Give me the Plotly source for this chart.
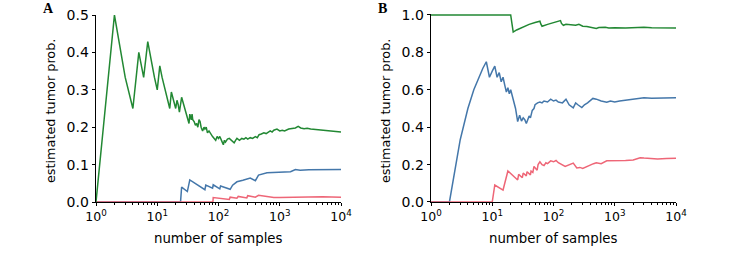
import plotly.graph_objects as go

# ---------------- data ----------------
# Panel A
a_green_n = [1, 2, 3, 4, 5, 6, 7, 8, 9, 10, 11, 12, 13, 14, 15, 16, 17, 18, 19, 20,
             21, 22, 23, 24, 25, 26, 28, 30, 32, 33, 34, 35, 36, 37, 38, 40, 42, 44, 46, 48,
             50, 52, 55, 58, 60, 63, 66, 70, 75, 80, 85, 90, 95, 100, 105, 110, 115, 120, 125, 130,
             140, 150, 160, 170, 180, 190, 200, 220, 240, 260, 280, 300, 330, 360, 400, 430, 460, 500,
             550, 600, 650, 700, 750, 800, 900, 1000, 1100, 1200, 1400, 1600, 1800, 2000, 2200, 2500,
             2800, 3200, 3600, 4000, 5000, 6000, 7000, 8000, 9000, 10000]
a_green_p = [0.0, 0.5, 0.333, 0.25, 0.4, 0.333, 0.429, 0.375, 0.333, 0.3, 0.364, 0.333, 0.308, 0.286, 0.267, 0.25, 0.294, 0.278, 0.263, 0.25,
             0.272, 0.26, 0.24, 0.27, 0.28, 0.27, 0.25, 0.235, 0.22, 0.21, 0.235, 0.23, 0.22, 0.235, 0.22, 0.215, 0.205, 0.21, 0.2, 0.22,
             0.215, 0.2, 0.19, 0.2, 0.195, 0.2, 0.185, 0.19, 0.18, 0.175, 0.17, 0.165, 0.175, 0.17, 0.175, 0.165, 0.16, 0.153, 0.165, 0.16,
             0.168, 0.17, 0.165, 0.16, 0.158, 0.165, 0.17, 0.165, 0.17, 0.168, 0.172, 0.168, 0.172, 0.17, 0.175, 0.172, 0.18, 0.182,
             0.185, 0.183, 0.188, 0.19, 0.187, 0.192, 0.195, 0.19, 0.192, 0.19, 0.195, 0.197, 0.198, 0.202, 0.198, 0.196,
             0.197, 0.195, 0.194, 0.193, 0.191, 0.19, 0.189, 0.188, 0.188, 0.187]

a_blue_n = [1, 24, 25, 31, 34, 45, 60, 62, 80, 82, 105, 108, 130, 155, 170, 200, 250, 330, 400, 450,
            620, 800, 1150, 1500, 1800, 2150, 3000, 5000, 10000]
a_blue_p = [0.0, 0.0, 0.04, 0.028, 0.059, 0.045, 0.033, 0.045, 0.037, 0.046, 0.035, 0.043, 0.038, 0.034, 0.045, 0.054, 0.058, 0.064, 0.057, 0.072,
            0.078, 0.079, 0.08, 0.081, 0.087, 0.085, 0.086, 0.086, 0.087]

a_red_n = [1, 81, 82, 100, 120, 150, 155, 180, 200, 210, 250, 290, 300, 350, 400, 450, 500, 600, 700, 800,
           1000, 1500, 2000, 3000, 5000, 10000]
a_red_p = [0.0, 0.0, 0.012, 0.01, 0.008, 0.007, 0.013, 0.011, 0.01, 0.015, 0.012, 0.011, 0.017, 0.015, 0.013, 0.018, 0.017, 0.016, 0.014, 0.012,
           0.012, 0.013, 0.013, 0.014, 0.014, 0.013]

# Panel B
b_green_n = [1, 20, 21, 22, 25, 30, 40, 50, 60, 62, 65, 80, 100, 130, 135, 145, 160, 200, 230, 260,
             300, 350, 400, 450, 500, 550, 700, 800, 1000, 1500, 2000, 3000, 4000, 6000, 10000]
b_green_p = [1.0, 1.0, 0.952, 0.909, 0.92, 0.933, 0.95, 0.96, 0.967, 0.952, 0.94, 0.95, 0.96, 0.97, 0.955, 0.945, 0.95, 0.948, 0.945, 0.95,
             0.94, 0.938, 0.935, 0.93, 0.928, 0.933, 0.935, 0.93, 0.932, 0.93, 0.933, 0.935, 0.932, 0.93, 0.93]

b_blue_n = [1, 2, 3, 4, 5, 6, 7, 8, 9, 10, 11, 12, 13, 14, 15, 16, 17, 18, 19, 20,
            22, 24, 26, 27, 28, 30, 32, 34, 36, 38, 40, 42, 45, 48, 50, 55, 60, 65, 70, 80,
            90, 100, 110, 120, 140, 160, 180, 210, 230, 250, 290, 320, 360, 440, 500, 600, 740, 850, 1000, 1200,
            1500, 2000, 2500, 3000, 4000, 5000, 7000, 10000]
b_blue_p = [0.0, 0.0, 0.333, 0.5, 0.6, 0.667, 0.714, 0.75, 0.667, 0.7, 0.727, 0.667, 0.692, 0.643, 0.667, 0.625, 0.588, 0.611, 0.579, 0.6,
            0.545, 0.5, 0.43, 0.444, 0.464, 0.433, 0.45, 0.44, 0.42, 0.44, 0.46, 0.45, 0.49, 0.5, 0.52, 0.53, 0.535, 0.53, 0.54, 0.535,
            0.55, 0.54, 0.545, 0.535, 0.53, 0.55, 0.52, 0.503, 0.53, 0.52, 0.505, 0.52, 0.53, 0.554, 0.55, 0.54, 0.533, 0.54, 0.535, 0.54,
            0.545, 0.55, 0.555, 0.558, 0.555, 0.555, 0.558, 0.558]

b_red_n = [1, 10, 11, 15, 18, 26, 27, 29, 31, 32, 34, 36, 37, 40, 42, 43, 46, 48, 51, 54,
           56, 60, 65, 70, 75, 80, 90, 100, 110, 120, 155, 180, 210, 240, 270, 300, 350, 400, 450, 500,
           600, 740, 900, 1000, 1500, 2000, 2600, 3000, 4000, 5000, 7000, 10000]
b_red_p = [0.0, 0.0, 0.091, 0.064, 0.166, 0.118, 0.148, 0.138, 0.13, 0.155, 0.146, 0.14, 0.162, 0.15, 0.145, 0.165, 0.158, 0.19, 0.18, 0.17,
           0.2, 0.215, 0.2, 0.195, 0.21, 0.205, 0.22, 0.215, 0.222, 0.21, 0.19, 0.2, 0.208, 0.182, 0.185, 0.18, 0.19, 0.2, 0.205, 0.21,
           0.205, 0.22, 0.22, 0.218, 0.222, 0.225, 0.237, 0.235, 0.232, 0.23, 0.232, 0.234]

x_tickvals = [1, 10, 100, 1000, 10000]
x_ticktext = ["10<sup>0</sup>", "10<sup>1</sup>", "10<sup>2</sup>", "10<sup>3</sup>", "10<sup>4</sup>"]
x_minor = [m * 10 ** d for d in range(4) for m in range(2, 10)]
a_yticks = [0.0, 0.1, 0.2, 0.3, 0.4, 0.5]
b_yticks = [0.0, 0.2, 0.4, 0.6, 0.8, 1.0]

GREEN = "#228833"
BLUE = "#4477AA"
RED = "#EE6677"

W, H = 732, 264
FONT = "DejaVu Sans"
Y0, Y1 = 202, 15  # pixel rows of axis bottom / top tick

fig = go.Figure()

def add(n, p, color, xa, ya):
    fig.add_trace(go.Scatter(x=n, y=p, mode="lines", line=dict(color=color, width=1.5),
                             xaxis=xa, yaxis=ya, showlegend=False, hoverinfo="skip"))

add(a_blue_n, a_blue_p, BLUE, "x", "y")
add(a_red_n, a_red_p, RED, "x", "y")
add(a_green_n, a_green_p, GREEN, "x", "y")
add(b_blue_n, b_blue_p, BLUE, "x2", "y2")
add(b_red_n, b_red_p, RED, "x2", "y2")
add(b_green_n, b_green_p, GREEN, "x2", "y2")

def xaxis(dom, anchor):
    return dict(domain=dom, anchor=anchor, type="log", range=[0, 4], automargin=False,
                tickvals=x_tickvals, ticktext=x_ticktext,
                ticks="outside", ticklen=3.5, tickwidth=0.8, tickcolor="#000",
                showline=True, linecolor="#000", linewidth=0.8, showgrid=False, zeroline=False,
                tickfont=dict(family=FONT, size=12.5, color="#000"),
                minor=dict(tickvals=x_minor, ticks="outside", ticklen=2, tickwidth=0.6,
                           tickcolor="#000", showgrid=False))

def yaxis(anchor, top, ticks, pad=0.0):
    # pad: small headroom above the top tick so a line at the top value is not clipped
    pxu = (Y0 - Y1) / top
    top_px = Y1 - pad * pxu
    return dict(domain=[1 - Y0 / H, 1 - top_px / H], anchor=anchor, range=[0, top + pad],
                tickvals=ticks, automargin=False,
                ticktext=["%.1f" % t for t in ticks],
                ticks="outside", ticklen=3.5, tickwidth=0.8, tickcolor="#000",
                showline=True, linecolor="#000", linewidth=0.8, showgrid=False, zeroline=False,
                tickfont=dict(family=FONT, size=14, color="#000"))

fig.update_layout(
    width=W, height=H,
    margin=dict(l=0, r=0, t=0, b=0, autoexpand=False),
    paper_bgcolor="white", plot_bgcolor="white",
    xaxis=xaxis([96 / W, 341 / W], "y"),
    yaxis=yaxis("x", 0.5, a_yticks),
    xaxis2=xaxis([431 / W, 676 / W], "y2"),
    yaxis2=yaxis("x2", 1.0, b_yticks, pad=0.006),
)

ann = []
for cx, lx in [((96 + 341) / 2, 51), ((431 + 676) / 2, 386)]:
    ann.append(dict(text="number of samples", x=cx / W, y=1 - 238 / H, xref="paper", yref="paper",
                    showarrow=False, font=dict(family=FONT, size=13.3, color="#000"),
                    xanchor="center", yanchor="middle"))
    ann.append(dict(text="estimated tumor prob.", x=lx / W, y=1 - 111 / H, xref="paper", yref="paper",
                    showarrow=False, textangle=-90, font=dict(family=FONT, size=12.8, color="#000"),
                    xanchor="center", yanchor="middle"))
ann.append(dict(text="<b>A</b>", x=41 / W, y=1 - 9 / H, xref="paper", yref="paper", showarrow=False,
                font=dict(family="Liberation Serif", size=14, color="#000"), xanchor="left", yanchor="middle"))
ann.append(dict(text="<b>B</b>", x=376 / W, y=1 - 9 / H, xref="paper", yref="paper", showarrow=False,
                font=dict(family="Liberation Serif", size=14, color="#000"), xanchor="left", yanchor="middle"))
fig.update_layout(annotations=ann)

fig.write_html("out.html", config={"displayModeBar": False},
               post_script="document.body.style.margin='0';document.body.style.overflow='hidden';")
